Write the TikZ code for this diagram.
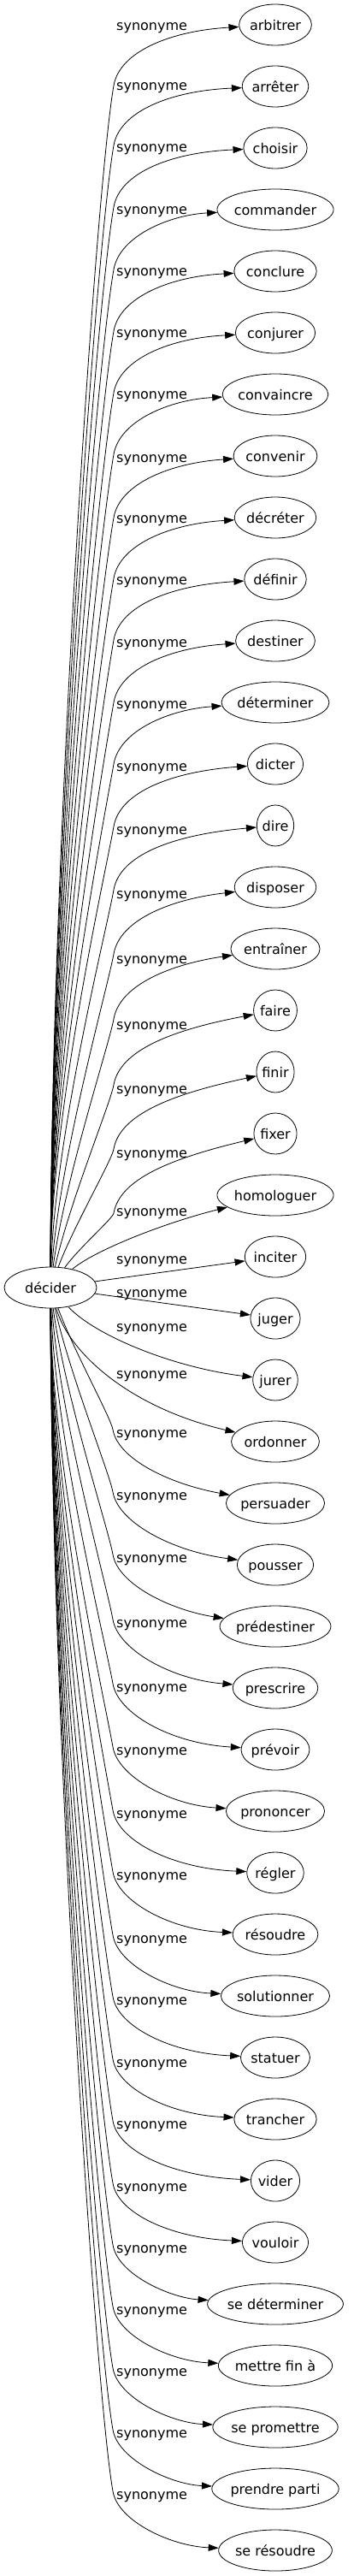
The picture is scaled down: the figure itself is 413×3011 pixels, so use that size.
\documentclass[tikz,border=0pt]{standalone}
\usepackage{fontspec}
\setmainfont{DejaVu Sans}
\usetikzlibrary{arrows.meta,shapes.geometric}
\newlength\wordlen
\newcommand\wfont{\fontsize{16}{19}\selectfont}
\newcommand\wordnode[3]{%
  \settowidth\wordlen{\wfont #3}%
  \pgfmathsetmacro\wmw{1.242*\wordlen+30.8}%
  \node[wnode, minimum width=\wmw pt] (#1) at (322,29+72*#2) {#3};}
\newcommand\synlab[2]{\node[synlbl] (#1) at (136,#2+4.5) {synonyme};}
\newcommand\edgeUp[2]{%
  \pgfmathsetmacro\eAy{#2+69}%
  \pgfmathsetmacro\eD{1481-\eAy}%
  \pgfmathsetmacro\ek{min(3,\eD/400)}%
  \pgfmathsetmacro\efr{max(0,1-\eD/500)}%
  \pgfmathsetmacro\eCax{60+36.5*\efr}%
  \pgfmathsetmacro\eCay{1481-0.35*\eD}%
  \pgfmathsetmacro\eCbx{133-7*\ek}%
  \pgfmathsetmacro\eCby{\eAy+40*\ek}%
  \pgfmathsetmacro\eCcy{#2+29}%
  \pgfmathsetmacro\eCdy{#2+5}%
  \draw[synedge] (d) .. controls (\eCax,\eCay) and (\eCbx,\eCby) .. (133,\eAy) .. controls (140,\eCcy) and (200,\eCdy) .. (#1);}
\newcommand\edgeDown[4]{%
  \pgfmathsetmacro\eAy{#2-5}%
  \pgfmathsetmacro\eD{\eAy-1529}%
  \pgfmathsetmacro\ek{min(3,\eD/400)}%
  \pgfmathsetmacro\efr{max(0,1-\eD/500)}%
  \pgfmathsetmacro\eCax{60+36.5*\efr}%
  \pgfmathsetmacro\eCay{1529+0.35*\eD}%
  \pgfmathsetmacro\eCbx{132-7*\ek}%
  \pgfmathsetmacro\eCby{\eAy-40*\ek}%
  \pgfmathsetmacro\eCcy{#2+30}%
  \pgfmathsetmacro\eCdy{29+72*#3-#4}%
  \draw[synedge] (d) .. controls (\eCax,\eCay) and (\eCbx,\eCby) .. (132,\eAy) .. controls (138,\eCcy) and (200,\eCdy) .. (#1);}
\begin{document}
\begin{tikzpicture}[x=1pt,y=-1pt,
  wnode/.style={ellipse, draw, line width=0.8pt, inner sep=0pt, minimum height=48pt, text height=13pt, text depth=0pt, font=\wfont},
  synlbl/.style={anchor=base west, inner sep=0pt, font=\wfont},
  synedge/.style={draw, line width=0.8pt, -{Triangle[length=12pt,width=8pt]}}]
\useasboundingbox (0,0) rectangle (413,3011);
\node[wnode, minimum width=108pt] (d) at (59,1505) {décider};
\wordnode{arbitrer}{0}{arbitrer}
\wordnode{arreter}{1}{arrêter}
\wordnode{choisir}{2}{choisir}
\wordnode{commander}{3}{commander}
\wordnode{conclure}{4}{conclure}
\wordnode{conjurer}{5}{conjurer}
\wordnode{convaincre}{6}{convaincre}
\wordnode{convenir}{7}{convenir}
\wordnode{decreter}{8}{décréter}
\wordnode{definir}{9}{définir}
\wordnode{destiner}{10}{destiner}
\wordnode{determiner}{11}{déterminer}
\wordnode{dicter}{12}{dicter}
\wordnode{dire}{13}{dire}
\wordnode{disposer}{14}{disposer}
\wordnode{entrainer}{15}{entraîner}
\wordnode{faire}{16}{faire}
\wordnode{finir}{17}{finir}
\wordnode{fixer}{18}{fixer}
\wordnode{homologuer}{19}{homologuer}
\wordnode{inciter}{20}{inciter}
\wordnode{juger}{21}{juger}
\wordnode{jurer}{22}{jurer}
\wordnode{ordonner}{23}{ordonner}
\wordnode{persuader}{24}{persuader}
\wordnode{pousser}{25}{pousser}
\wordnode{predestiner}{26}{prédestiner}
\wordnode{prescrire}{27}{prescrire}
\wordnode{prevoir}{28}{prévoir}
\wordnode{prononcer}{29}{prononcer}
\wordnode{regler}{30}{régler}
\wordnode{resoudre}{31}{résoudre}
\wordnode{solutionner}{32}{solutionner}
\wordnode{statuer}{33}{statuer}
\wordnode{trancher}{34}{trancher}
\wordnode{vider}{35}{vider}
\wordnode{vouloir}{36}{vouloir}
\wordnode{sedeterminer}{37}{se déterminer}
\wordnode{mettrefin}{38}{mettre fin à}
\wordnode{sepromettre}{39}{se promettre}
\wordnode{prendreparti}{40}{prendre parti}
\wordnode{seresoudre}{41}{se résoudre}
% labels
\synlab{l0}{31}
\synlab{l1}{101}
\synlab{l2}{173}
\synlab{l3}{246}
\synlab{l4}{318}
\synlab{l5}{390}
\synlab{l6}{462}
\synlab{l7}{536}
\synlab{l8}{607}
\synlab{l9}{679}
\synlab{l10}{752}
\synlab{l11}{824}
\synlab{l12}{897}
\synlab{l13}{971}
\synlab{l14}{1046}
\synlab{l15}{1122}
\synlab{l16}{1199}
\synlab{l17}{1274}
\synlab{l18}{1349}
\synlab{l19}{1417}
\synlab{l20}{1473}
\synlab{l21}{1512}
\synlab{l22}{1552}
\synlab{l23}{1607}
\synlab{l24}{1676}
\synlab{l25}{1749}
\synlab{l26}{1822}
\synlab{l27}{1898}
\synlab{l28}{1973}
\synlab{l29}{2047}
\synlab{l30}{2121}
\synlab{l31}{2193}
\synlab{l32}{2267}
\synlab{l33}{2339}
\synlab{l34}{2412}
\synlab{l35}{2484}
\synlab{l36}{2557}
\synlab{l37}{2629}
\synlab{l38}{2701}
\synlab{l39}{2773}
\synlab{l40}{2845}
\synlab{l41}{2917}
% edges
\edgeUp{arbitrer}{31}
\edgeUp{arreter}{101}
\edgeUp{choisir}{173}
\edgeUp{commander}{246}
\edgeUp{conclure}{318}
\edgeUp{conjurer}{390}
\edgeUp{convaincre}{462}
\edgeUp{convenir}{536}
\edgeUp{decreter}{607}
\edgeUp{definir}{679}
\edgeUp{destiner}{752}
\edgeUp{determiner}{824}
\edgeUp{dicter}{897}
\edgeUp{dire}{971}
\edgeUp{disposer}{1046}
\edgeUp{entrainer}{1122}
\edgeUp{faire}{1199}
\edgeUp{finir}{1274}
\edgeUp{fixer}{1349}
\draw[synedge] (d) .. controls (110,1462) and (190,1430) .. (homologuer);
\draw[synedge] (d) -- (inciter);
\draw[synedge] (d) -- (juger);
\draw[synedge] (d) .. controls (110,1560) and (200,1598) .. (jurer);
\draw[synedge] (d) .. controls (80,1580) and (150,1645) .. (ordonner);
\edgeDown{persuader}{1676}{24}{22}
\edgeDown{pousser}{1749}{25}{16}
\edgeDown{predestiner}{1822}{26}{19}
\edgeDown{prescrire}{1898}{27}{10}
\edgeDown{prevoir}{1973}{28}{7}
\edgeDown{prononcer}{2047}{29}{7}
\edgeDown{regler}{2121}{30}{5}
\edgeDown{resoudre}{2193}{31}{5}
\edgeDown{solutionner}{2267}{32}{5}
\edgeDown{statuer}{2339}{33}{5}
\edgeDown{trancher}{2412}{34}{5}
\edgeDown{vider}{2484}{35}{5}
\edgeDown{vouloir}{2557}{36}{5}
\edgeDown{sedeterminer}{2629}{37}{7}
\edgeDown{mettrefin}{2701}{38}{5}
\edgeDown{sepromettre}{2773}{39}{5}
\edgeDown{prendreparti}{2845}{40}{5}
\edgeDown{seresoudre}{2917}{41}{5}
\end{tikzpicture}
\end{document}
